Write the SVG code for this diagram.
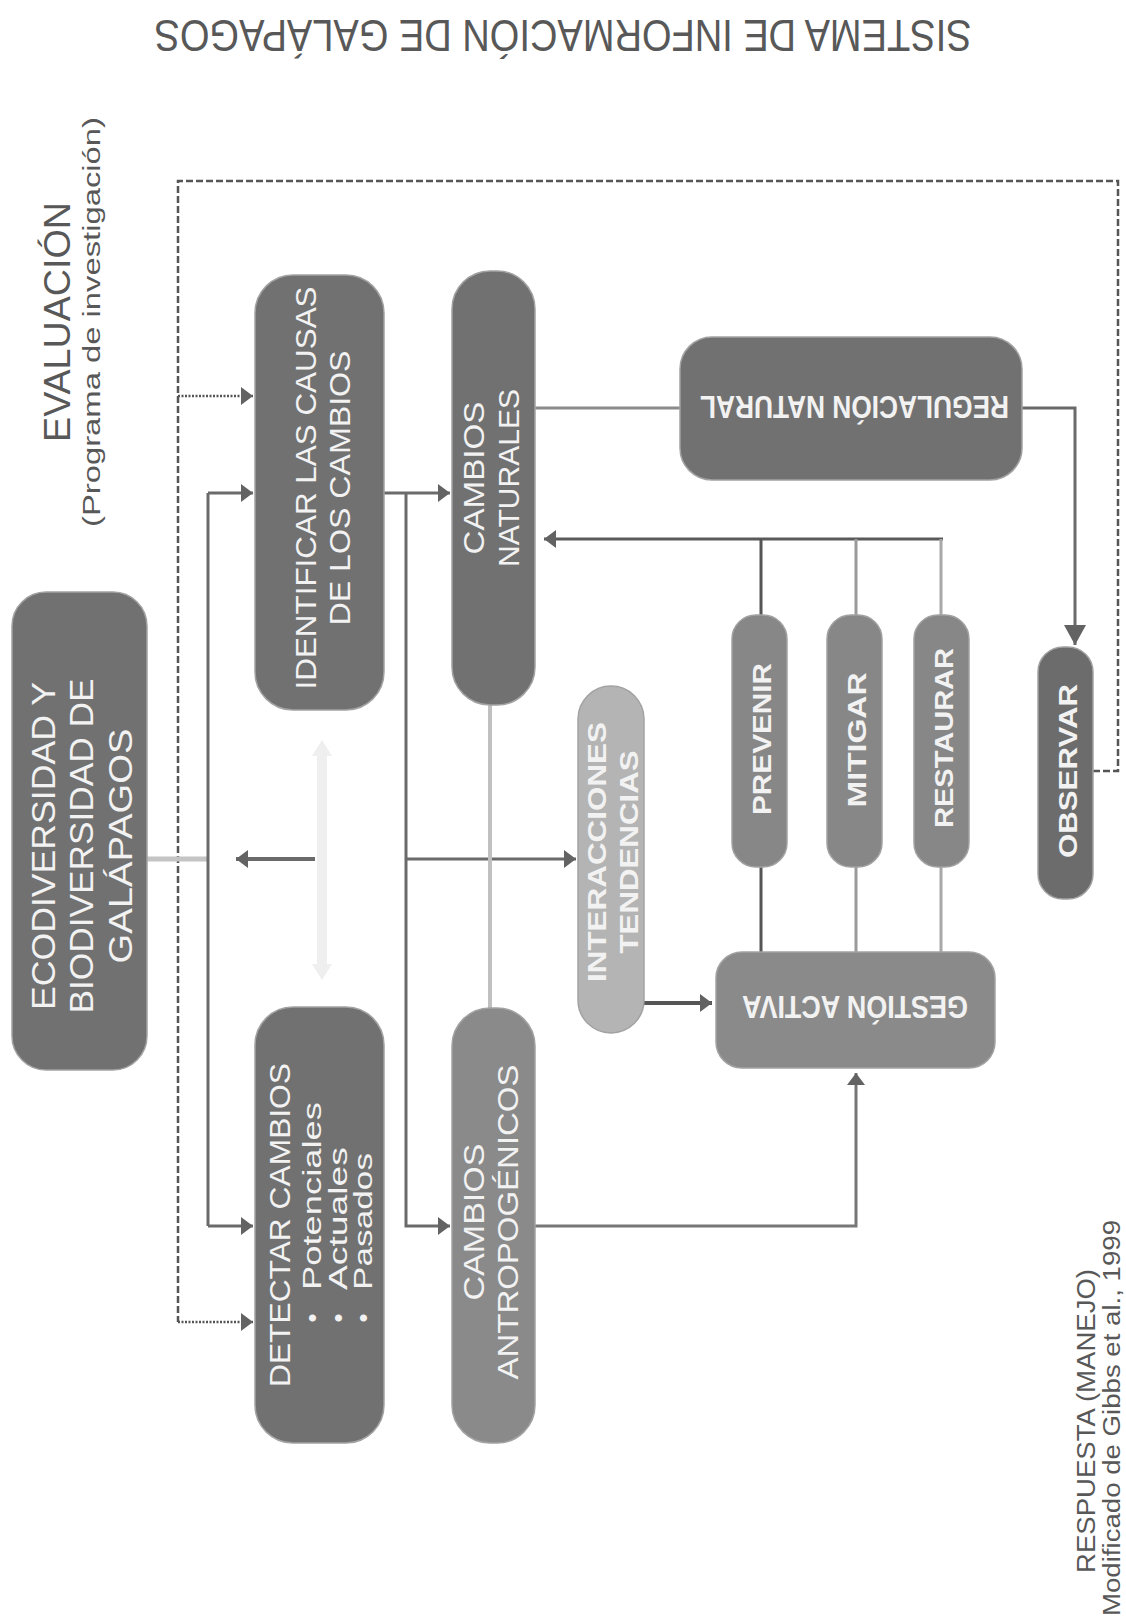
<svg xmlns="http://www.w3.org/2000/svg" width="1126" height="1619" viewBox="0 0 1126 1619">
  <style>
    .lbl { font-family: "Liberation Sans", "DejaVu Sans", Arial, sans-serif; fill: #f2f2f2; }
    .b { font-weight: bold; }
    .hdr { font-family: "Liberation Sans", "DejaVu Sans", Arial, sans-serif; fill: #585858; }
    .box { stroke: #a2a2a2; stroke-width: 1.5; }
    .dark { fill: #717171; }
    .mid { fill: #8a8a8a; }
    .act { fill: #878787; }
    .pale { fill: #b4b4b4; }
    .obs { fill: #6c6c6c; }
    .ln { fill: none; stroke: #6a6a6a; stroke-width: 3; }
    .dash { fill: none; stroke: #555; stroke-width: 2.5; stroke-dasharray: 7 3; }
    .dot { fill: none; stroke: #555; stroke-width: 2.5; stroke-dasharray: 2 1.5; }
  </style>
  <defs>
    <marker id="ah" viewBox="0 0 12 18" refX="12" refY="9" markerWidth="12" markerHeight="18" markerUnits="userSpaceOnUse" orient="auto">
      <path d="M0,0 L12,9 L0,18 z" fill="#636363"/>
    </marker>
    <marker id="ahBig" viewBox="0 0 20 22" refX="20" refY="11" markerWidth="20" markerHeight="22" markerUnits="userSpaceOnUse" orient="auto">
      <path d="M0,0 L20,11 L0,22 z" fill="#636363"/>
    </marker>
  </defs>

  <rect width="1126" height="1619" fill="#ffffff"/>

  <!-- headings -->
  <g id="title">
    <text class="hdr" transform="translate(563,20) rotate(180)" text-anchor="middle" font-size="45" textLength="817" lengthAdjust="spacingAndGlyphs">SISTEMA DE INFORMACIÓN DE GALÁPAGOS</text>
  </g>
  <g id="evaluacion">
    <text class="hdr" transform="translate(70,322) rotate(-90)" text-anchor="middle" font-size="37" textLength="240" lengthAdjust="spacingAndGlyphs" fill="#666">EVALUACIÓN</text>
    <text class="hdr" transform="translate(100,322) rotate(-90)" text-anchor="middle" font-size="23" textLength="410" lengthAdjust="spacingAndGlyphs" fill="#666">(Programa de investigación)</text>
  </g>
  <g id="respuesta">
    <text class="hdr" transform="translate(1095,1421) rotate(-90)" text-anchor="middle" font-size="26" textLength="304" lengthAdjust="spacingAndGlyphs" fill="#505050">RESPUESTA (MANEJO)</text>
    <text class="hdr" transform="translate(1120,1220) rotate(-90)" text-anchor="end" font-size="23" textLength="396" lengthAdjust="spacingAndGlyphs" fill="#444">Modificado de Gibbs et al., 1999</text>
  </g>

  <!-- connectors -->
  <g id="connectors">
    <!-- observation feedback loop -->
    <path class="dash" d="M1093,771 H1118 V181 H178 V1322"/>
    <path class="dot" d="M178,396 H253" marker-end="url(#ah)"/>
    <path class="dot" d="M178,1322 H253" marker-end="url(#ah)"/>
    <!-- ecosystem link -->
    <path d="M147,859 H208" fill="none" stroke="#c4c4c4" stroke-width="5"/>
    <path class="ln" d="M208,493 V1226"/>
    <path class="ln" d="M208,493 H253" marker-end="url(#ah)"/>
    <path class="ln" d="M208,1226 H253" marker-end="url(#ah)"/>
    <path d="M315,859 H236" fill="none" stroke="#6a6a6a" stroke-width="4" marker-end="url(#ah)"/>
    <!-- faint two-way arrow between the two evaluation boxes -->
    <path d="M322,740 L332,756 L327,756 L327,964 L332,964 L322,980 L312,964 L317,964 L317,756 L312,756 Z" fill="#efefef"/>
    <!-- causes to types of change -->
    <path class="ln" d="M384,493 H450" marker-end="url(#ah)"/>
    <path class="ln" d="M406,493 V1226 H450" marker-end="url(#ah)"/>
    <path class="ln" d="M406,859 H576" marker-end="url(#ah)"/>
    <path d="M490,705 V1008" fill="none" stroke="#c0c0c0" stroke-width="4"/>
    <!-- natural regulation -->
    <path d="M535,408 H680" fill="none" stroke="#8a8a8a" stroke-width="3"/>
    <path class="ln" d="M1022,408 H1075 V645" marker-end="url(#ahBig)"/>
    <!-- management actions back to natural changes -->
    <path d="M943,539 H544" fill="none" stroke="#5a5a5a" stroke-width="3" marker-end="url(#ah)"/>
    <path d="M761,539 V615 M761,867 V952" fill="none" stroke="#555" stroke-width="3"/>
    <path d="M856,539 V615 M856,867 V952" fill="none" stroke="#9a9a9a" stroke-width="3"/>
    <path d="M941,539 V615 M941,867 V952" fill="none" stroke="#a8a8a8" stroke-width="3"/>
    <path d="M644,1003 H712" fill="none" stroke="#555" stroke-width="4" marker-end="url(#ah)"/>
    <path d="M535,1226 H856 V1073" fill="none" stroke="#777" stroke-width="3" marker-end="url(#ah)"/>
  </g>

  <!-- nodes -->
  <g id="ecodiversidad">
    <rect class="box dark" x="12" y="592" width="135" height="478" rx="34"/>
    <text class="lbl" transform="translate(55,846) rotate(-90)" text-anchor="middle" font-size="34" textLength="328" lengthAdjust="spacingAndGlyphs">ECODIVERSIDAD Y</text>
    <text class="lbl" transform="translate(93,846) rotate(-90)" text-anchor="middle" font-size="34" textLength="335" lengthAdjust="spacingAndGlyphs">BIODIVERSIDAD DE</text>
    <text class="lbl" transform="translate(132,846) rotate(-90)" text-anchor="middle" font-size="34" textLength="235" lengthAdjust="spacingAndGlyphs">GALÁPAGOS</text>
  </g>

  <g id="identificar">
    <rect class="box dark" x="255" y="275" width="129" height="435" rx="38"/>
    <text class="lbl" transform="translate(316,488) rotate(-90)" text-anchor="middle" font-size="29" textLength="403" lengthAdjust="spacingAndGlyphs">IDENTIFICAR LAS CAUSAS</text>
    <text class="lbl" transform="translate(350,488) rotate(-90)" text-anchor="middle" font-size="29" textLength="275" lengthAdjust="spacingAndGlyphs">DE LOS CAMBIOS</text>
  </g>

  <g id="detectar">
    <rect class="box dark" x="255" y="1007" width="129" height="436" rx="38"/>
    <text class="lbl" transform="translate(290,1387) rotate(-90)" font-size="30" textLength="324" lengthAdjust="spacingAndGlyphs">DETECTAR CAMBIOS</text>
    <text class="lbl" transform="translate(321,1318) rotate(-90)" text-anchor="middle" font-size="26">•</text>
    <text class="lbl" transform="translate(347,1318) rotate(-90)" text-anchor="middle" font-size="26">•</text>
    <text class="lbl" transform="translate(372,1318) rotate(-90)" text-anchor="middle" font-size="26">•</text>
    <text class="lbl" transform="translate(321,1290) rotate(-90)" font-size="26" textLength="188" lengthAdjust="spacingAndGlyphs">Potenciales</text>
    <text class="lbl" transform="translate(347,1290) rotate(-90)" font-size="26" textLength="143" lengthAdjust="spacingAndGlyphs">Actuales</text>
    <text class="lbl" transform="translate(372,1290) rotate(-90)" font-size="26" textLength="137" lengthAdjust="spacingAndGlyphs">Pasados</text>
  </g>

  <g id="cambios-naturales">
    <rect class="box dark" x="452" y="271" width="83" height="434" rx="38"/>
    <text class="lbl" transform="translate(484,478) rotate(-90)" text-anchor="middle" font-size="29" textLength="153" lengthAdjust="spacingAndGlyphs">CAMBIOS</text>
    <text class="lbl" transform="translate(519,478) rotate(-90)" text-anchor="middle" font-size="29" textLength="178" lengthAdjust="spacingAndGlyphs">NATURALES</text>
  </g>

  <g id="cambios-antropogenicos">
    <rect class="box mid" x="452" y="1008" width="83" height="435" rx="38"/>
    <text class="lbl" transform="translate(484,1222) rotate(-90)" text-anchor="middle" font-size="29" textLength="157" lengthAdjust="spacingAndGlyphs">CAMBIOS</text>
    <text class="lbl" transform="translate(518,1222) rotate(-90)" text-anchor="middle" font-size="29" textLength="315" lengthAdjust="spacingAndGlyphs">ANTROPOGÉNICOS</text>
  </g>

  <g id="interacciones">
    <rect class="box pale" x="578" y="686" width="66" height="347" rx="33" stroke="#c8c8c8"/>
    <text class="lbl b" transform="translate(606,852) rotate(-90)" text-anchor="middle" font-size="26" textLength="260" lengthAdjust="spacingAndGlyphs">INTERACCIONES</text>
    <text class="lbl b" transform="translate(638,852) rotate(-90)" text-anchor="middle" font-size="26" textLength="203" lengthAdjust="spacingAndGlyphs">TENDENCIAS</text>
  </g>

  <g id="regulacion-natural">
    <rect class="box dark" x="680" y="337" width="342" height="143" rx="32"/>
    <text class="lbl b" transform="translate(854.5,396) rotate(180)" text-anchor="middle" font-size="31" textLength="309" lengthAdjust="spacingAndGlyphs">REGULACIÓN NATURAL</text>
  </g>

  <g id="prevenir">
    <rect class="box act" x="732" y="615" width="55" height="252" rx="24"/>
    <text class="lbl b" transform="translate(771,739) rotate(-90)" text-anchor="middle" font-size="26" textLength="152" lengthAdjust="spacingAndGlyphs">PREVENIR</text>
  </g>
  <g id="mitigar">
    <rect class="box act" x="827" y="615" width="55" height="252" rx="24"/>
    <text class="lbl b" transform="translate(866,740) rotate(-90)" text-anchor="middle" font-size="26" textLength="135" lengthAdjust="spacingAndGlyphs">MITIGAR</text>
  </g>
  <g id="restaurar">
    <rect class="box act" x="914" y="615" width="55" height="252" rx="24"/>
    <text class="lbl b" transform="translate(953,738) rotate(-90)" text-anchor="middle" font-size="26" textLength="180" lengthAdjust="spacingAndGlyphs">RESTAURAR</text>
  </g>

  <g id="observar">
    <rect class="box obs" x="1038" y="647" width="55" height="252" rx="25"/>
    <text class="lbl b" transform="translate(1077,771) rotate(-90)" text-anchor="middle" font-size="26" textLength="174" lengthAdjust="spacingAndGlyphs">OBSERVAR</text>
  </g>

  <g id="gestion-activa">
    <rect class="box mid" x="716" y="952" width="279" height="116" rx="26"/>
    <text class="lbl b" transform="translate(855,996) rotate(180)" text-anchor="middle" font-size="31" textLength="226" lengthAdjust="spacingAndGlyphs">GESTIÓN ACTIVA</text>
  </g>
</svg>
